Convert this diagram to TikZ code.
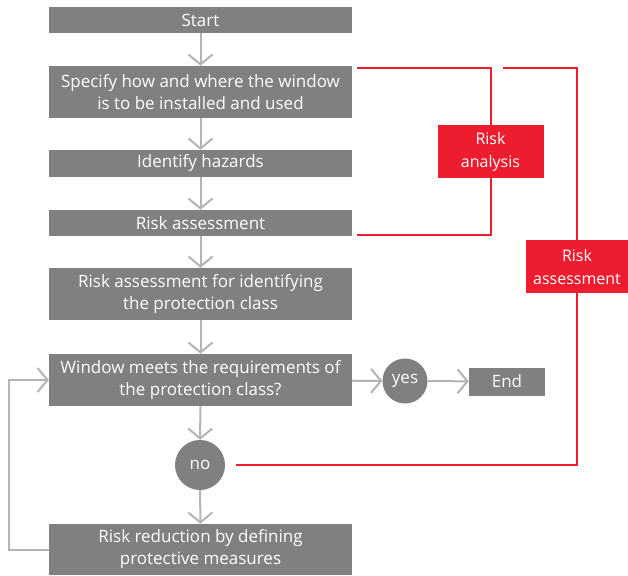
\documentclass[tikz,border=0pt]{standalone}
\usepackage{fontspec}
\setmainfont{Open Sans}
\usetikzlibrary{arrows.meta,positioning}
\definecolor{boxgrey}{RGB}{128,128,131}
\definecolor{arrowgrey}{RGB}{180,180,182}
\definecolor{riskred}{RGB}{237,28,46}

\begin{document}
\begin{tikzpicture}[x=1pt, y=-1pt,
    flowbox/.style={rectangle, fill=boxgrey, text=white, minimum width=303pt, inner sep=0pt, align=center, font=\fontsize{17}{22}\selectfont},
    decision/.style={circle, fill=boxgrey, text=white, inner sep=0pt, font=\fontsize{17}{22}\selectfont},
    redbox/.style={rectangle, fill=riskred, text=white, inner sep=0pt, align=center, font=\fontsize{16}{23}\selectfont},
    flow/.style={draw=arrowgrey, line width=2pt, -{Straight Barb[length=10pt,width=24pt]}},
    link/.style={draw=riskred, line width=2pt}
]
    \useasboundingbox (0,0) rectangle (628,575);

    % Main flow boxes
    \node[flowbox, minimum height=26pt] (start) at (200.5,20) {Start};
    \node[flowbox, minimum height=52pt] (specify) at (200.5,92) {Specify how and where the window\\is to be installed and used};
    \node[flowbox, minimum height=27pt] (hazards) at (200.5,163.5) {Identify hazards};
    \node[flowbox, minimum height=26pt] (assess) at (200.5,223) {Risk assessment};
    \node[flowbox, minimum height=52pt] (protect) at (200.5,294) {Risk assessment for identifying\\the protection class};
    \node[flowbox, minimum height=52pt] (meets) at (200.5,380) {Window meets the requirements of\\the protection class?};
    \node[flowbox, minimum height=51pt] (reduce) at (200.5,549.5) {Risk reduction by defining\\protective measures};

    % Decisions and end
    \node[decision, minimum size=45pt] (yes) at (405,381) {yes};
    \node[decision, minimum size=50pt] (no) at (200,465) {no};
    \node[rectangle, fill=boxgrey, text=white, minimum width=76pt, minimum height=28pt, font=\fontsize{17}{22}\selectfont] (end) at (507,381.5) {End};

    % Red labels
    \node[redbox, minimum width=106pt, minimum height=53pt] (analysis) at (490.5,151.5) {Risk\\analysis};
    \node[redbox, minimum width=102pt, minimum height=53pt] (riskbox) at (577,266.5) {Risk\\assessment};

    % Grey arrows
    \draw[flow] (start) -- (specify);
    \draw[flow] (specify) -- (hazards);
    \draw[flow] (hazards) -- (assess);
    \draw[flow] (assess) -- (protect);
    \draw[flow] (protect) -- (meets);
    \draw[flow] (meets) -- (yes);
    \draw[flow] (yes) -- (end);
    \draw[flow] (meets) -- (no);
    \draw[flow] (no) -- (reduce);
    \draw[flow] (reduce.west) -- ++(-40,0) |- (meets.west);

    % Red brackets
    \coordinate (atop) at (357,68);
    \coordinate (abot) at (357,235);
    \coordinate (btop) at (503,68);
    \draw[link] (atop) -| (analysis.north);
    \draw[link] (analysis.south) |- (abot);
    \draw[link] (btop) -| (riskbox.north);
    \draw[link] (riskbox.south) |- ([xshift=11pt]no.east);
\end{tikzpicture}
\end{document}
